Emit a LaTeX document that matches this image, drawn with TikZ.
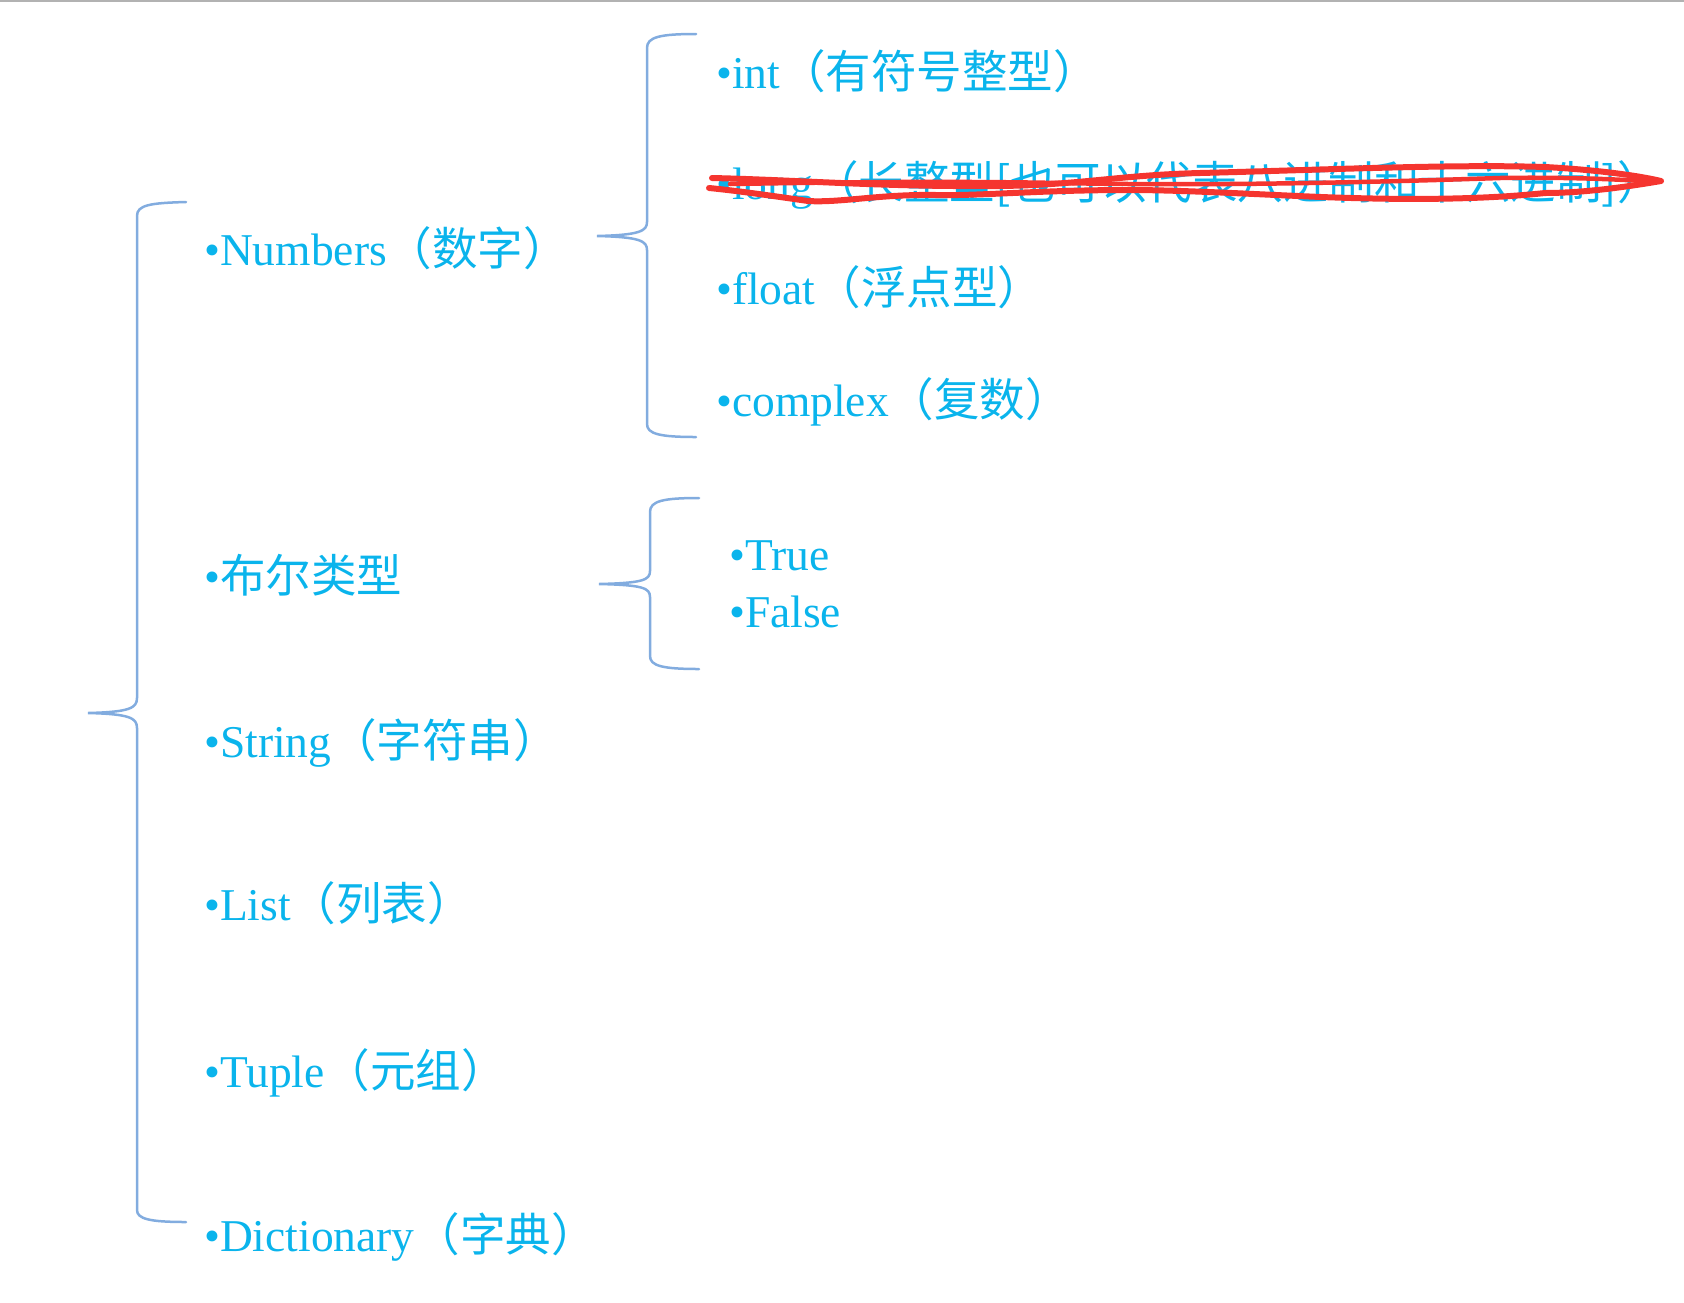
\documentclass[tikz,border=0pt]{standalone}
\usepackage{fontspec}
\setmainfont{Liberation Serif}
\newfontfamily\cjk{Noto Sans CJK SC}
\definecolor{txtc}{HTML}{0AB4EC}
\definecolor{brc}{HTML}{82ACDF}
\definecolor{redc}{HTML}{F5352F}
\begin{document}
\begin{tikzpicture}[x=1pt,y=-1pt,
  item/.style={anchor=base west,inner sep=0pt,text=txtc,font=\fontsize{45.5}{50}\selectfont},
  brace/.style={draw=brc,line width=2.5pt,line cap=round},
  scrib/.style={draw=redc,line width=6pt,line cap=round,line join=round}]
\useasboundingbox (0,0) rectangle (1684,1302);
\draw[gray!60,line width=2pt] (0,1) -- (1684,1);
% left column
\node[item] (num)  at (204,265)  {\textbullet Numbers{\cjk（数字）}};
\node[item] (bool) at (204,592)  {\textbullet{\cjk 布尔类型}};
\node[item] (str)  at (204,757)  {\textbullet String{\cjk（字符串）}};
\node[item] (lst)  at (204,920)  {\textbullet List{\cjk（列表）}};
\node[item] (tup)  at (204,1087) {\textbullet Tuple{\cjk（元组）}};
\node[item] (dic)  at (204,1251) {\textbullet Dictionary{\cjk（字典）}};
% numbers column
\node[item] (int)  at (716,88)  {\textbullet int{\cjk（有符号整型）}};
\node[item] (lng)  at (716,199) {\textbullet long{\cjk（长整型[也可以代表八进制和十六进制]）}};
\node[item] (flt)  at (716,304) {\textbullet float{\cjk（浮点型）}};
\node[item] (cpx)  at (716,416) {\textbullet complex{\cjk（复数）}};
% bool column
\node[item] (tru) at (729,570) {\textbullet True};
\node[item] (fls) at (729,627) {\textbullet False};
% big brace
\coordinate (b1t) at (186,202);
\coordinate (b1b) at (186,1222);
\coordinate (b1m) at (88,713);
\draw[brace] (b1t) .. controls (150,203) and (137,205) .. (137,216)
  -- (137,698) .. controls (137,708) and (130,712) .. (b1m)
  .. controls (130,714) and (137,718) .. (137,728)
  -- (137,1210) .. controls (137,1219) and (150,1222) .. (b1b);
% numbers brace
\coordinate (b2t) at (696,34);
\coordinate (b2b) at (696,437);
\coordinate (b2m) at (597,236);
\draw[brace] (b2t) .. controls (660,34) and (647,37) .. (647,48)
  -- (647,222) .. controls (647,231) and (640,235) .. (b2m)
  .. controls (640,237) and (647,241) .. (647,250)
  -- (647,424) .. controls (647,434) and (660,437) .. (b2b);
% bool brace
\coordinate (b3t) at (699,498);
\coordinate (b3b) at (699,669);
\coordinate (b3m) at (599,584);
\draw[brace] (b3t) .. controls (663,498) and (650,501) .. (650,512)
  -- (650,571) .. controls (650,580) and (643,583) .. (b3m)
  .. controls (643,585) and (650,588) .. (650,597)
  -- (650,656) .. controls (650,666) and (663,669) .. (b3b);
% red scribble over "long"
\draw[scrib] (712,178) .. controls (800,180) and (880,187) .. (1000,186)
  .. controls (1080,185) and (1120,175) .. (1200,173)
  .. controls (1320,170) and (1450,164) .. (1545,167)
  .. controls (1600,170) and (1640,176) .. (1661,181)
  .. controls (1620,188) and (1580,193) .. (1545,193)
  .. controls (1480,200) and (1400,200) .. (1321,197)
  .. controls (1250,194) and (1180,190) .. (1129,190)
  .. controls (1040,190) and (980,196) .. (936,195)
  .. controls (880,194) and (840,203) .. (808,201)
  .. controls (780,197) and (740,191) .. (709,188);
\draw[scrib,line width=4.5pt] (730,184) .. controls (850,182) and (950,181) .. (1060,183)
  .. controls (1200,186) and (1350,183) .. (1500,178)
  .. controls (1560,177) and (1620,179) .. (1655,182);
\end{tikzpicture}
\end{document}
